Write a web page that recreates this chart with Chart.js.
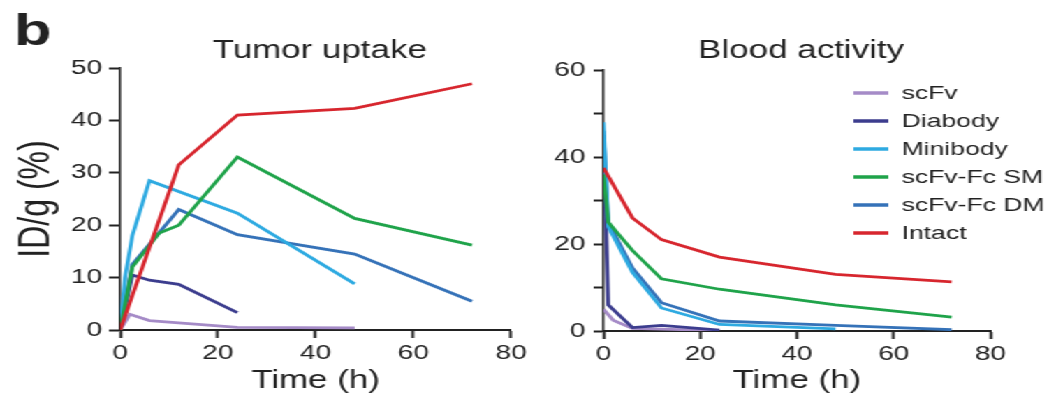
<!DOCTYPE html>
<html><head><meta charset="utf-8">
<script src="https://cdn.jsdelivr.net/npm/chart.js@4/dist/chart.umd.min.js"></script>
<style>
html,body{margin:0;padding:0;background:#fff;overflow:hidden;}
#wrap{position:absolute;left:0;top:0;width:756px;height:403px;transform:scaleX(1.396825);transform-origin:0 0;}
#c1{position:absolute;left:0;top:0;}
#c2{position:absolute;left:380px;top:0;}
</style></head><body>
<div id="wrap"><canvas id="c1" width="380" height="403"></canvas><canvas id="c2" width="376" height="403"></canvas></div>
<script>
// ---- data ----
const seriesNames = ['scFv', 'Diabody', 'Minibody', 'scFv-Fc SM', 'scFv-Fc DM', 'Intact'];
const seriesColors = ['#a58bc7', '#3c3d8e', '#2eaae1', '#1fa34a', '#3572b8', '#d7262e'];
const xTickLabels = [0, 20, 40, 60, 80];
const tumorYTickLabels = [0, 10, 20, 30, 40, 50];
const bloodYTickLabels = [0, 20, 40, 60];

// Tumor uptake (time h, ID/g %)
const tumorScFvT = [0, 2, 6, 24, 48];
const tumorScFvV = [0, 3, 1.8, 0.5, 0.4];
const tumorDiabodyT = [0, 2.5, 6, 12, 24];
const tumorDiabodyV = [0, 10.5, 9.5, 8.7, 3.3];
const tumorMinibodyT = [0, 1, 2.5, 6, 24, 48];
const tumorMinibodyV = [0, 10, 18, 28.5, 22.3, 8.8];
const tumorSMT = [0, 2.5, 8, 12, 24, 48, 72];
const tumorSMV = [0, 12, 18.5, 20, 33, 21.3, 16.2];
const tumorDMT = [0, 2.5, 12, 24, 48, 72];
const tumorDMV = [0, 12.5, 23, 18.2, 14.5, 5.5];
const tumorIntactT = [0, 12, 24, 48, 72];
const tumorIntactV = [0, 31.5, 41, 42.3, 47];

// Blood activity (time h, ID/g %)
const bloodScFvT = [0, 2, 6, 24];
const bloodScFvV = [5, 2.5, 0.6, 0.1];
const bloodDiabodyT = [0, 1, 6, 12, 24];
const bloodDiabodyV = [45, 6, 0.8, 1.3, 0.2];
const bloodMinibodyT = [0, 1, 6, 12, 24, 48];
const bloodMinibodyV = [48, 24, 13.5, 5.3, 1.5, 0.5];
const bloodSMT = [0, 1, 6, 12, 24, 48, 72];
const bloodSMV = [36, 25, 18.5, 12, 9.6, 6, 3.2];
const bloodDMT = [0, 1, 6, 12, 24, 48, 72];
const bloodDMV = [46, 25, 14.5, 6.5, 2.3, 1.3, 0.3];
const bloodIntactT = [0, 6, 12, 24, 48, 72];
const bloodIntactV = [37.5, 26, 21, 17, 13, 11.3];

const tumorSeries = [[tumorScFvT, tumorScFvV], [tumorDiabodyT, tumorDiabodyV], [tumorMinibodyT, tumorMinibodyV],
  [tumorSMT, tumorSMV], [tumorDMT, tumorDMV], [tumorIntactT, tumorIntactV]];
const bloodSeries = [[bloodScFvT, bloodScFvV], [bloodDiabodyT, bloodDiabodyV], [bloodMinibodyT, bloodMinibodyV],
  [bloodSMT, bloodSMV], [bloodDMT, bloodDMV], [bloodIntactT, bloodIntactV]];

// ---- chart ----
Chart.defaults.font.family = "'Liberation Sans', Arial, Helvetica, sans-serif";
Chart.defaults.color = '#222';
const INK = '#222';
const drawOrder = [5, 4, 2, 1, 3, 0];

function buildDatasets(series) {
  return series.map((s, i) => ({
    label: seriesNames[i],
    data: s[0].map((t, j) => ({ x: t, y: s[1][j] })),
    borderColor: seriesColors[i],
    backgroundColor: seriesColors[i],
    borderWidth: 2.8,
    pointRadius: 0,
    tension: 0,
    fill: false,
    order: drawOrder[i]
  }));
}

const decor = {
  id: 'decor',
  afterDraw(chart, args, o) {
    const ctx = chart.ctx, ca = chart.chartArea;
    ctx.save();
    ctx.fillStyle = INK;
    ctx.textBaseline = 'alphabetic';
    ctx.textAlign = 'center';
    ctx.font = "25px 'Liberation Sans', Arial, sans-serif";
    ctx.fillText(o.title, (ca.left + ca.right) / 2 + 3, 58);
    if (o.letter) {
      ctx.textAlign = 'left';
      ctx.font = "bold 44px 'Liberation Sans', Arial, sans-serif";
      ctx.fillText(o.letter, 10, 45);
    }
    if (o.legend) {
      ctx.textAlign = 'left';
      ctx.textBaseline = 'middle';
      ctx.font = "19px 'Liberation Sans', Arial, sans-serif";
      chart.data.datasets.forEach((ds, i) => {
        const y = 93 + i * 28;
        ctx.strokeStyle = ds.borderColor;
        ctx.lineWidth = 3.5;
        ctx.beginPath();
        ctx.moveTo(231, y);
        ctx.lineTo(256, y);
        ctx.stroke();
        ctx.fillStyle = INK;
        ctx.fillText(ds.label, 265.5, y + 1);
      });
    }
    ctx.restore();
  }
};

function makeChart(id, series, cfg) {
  return new Chart(document.getElementById(id), {
    type: 'line',
    data: { datasets: buildDatasets(series) },
    plugins: [decor],
    options: {
      responsive: false,
      animation: false,
      devicePixelRatio: 1,
      layout: { padding: { left: 0, right: cfg.padRight, top: cfg.top, bottom: 0 } },
      plugins: {
        legend: { display: false },
        tooltip: { enabled: false },
        decor: { title: cfg.title, letter: cfg.letter, legend: cfg.legend }
      },
      scales: {
        x: {
          type: 'linear', min: 0, max: 80,
          ticks: { stepSize: 20, font: { size: 20 }, color: INK, padding: 3,
            callback: v => xTickLabels.includes(v) ? String(v) : '' },
          grid: { display: true, drawOnChartArea: false, drawTicks: true, tickLength: 8, tickWidth: 2, tickColor: INK },
          border: { display: true, color: INK, width: 2 },
          title: { display: true, text: 'Time (h)', font: { size: 25 }, color: INK, padding: { top: 0, bottom: 7 } },
          afterFit: s => { s.height = cfg.xHeight; }
        },
        y: {
          type: 'linear', min: 0, max: cfg.yMax,
          ticks: { stepSize: 10, font: { size: 20 }, color: INK, padding: cfg.yTickPad,
            callback: v => cfg.yLabels.includes(v) ? String(v) : '' },
          grid: { display: true, drawOnChartArea: false, drawTicks: true, tickLength: cfg.yTickLen, tickWidth: 2, tickColor: INK },
          border: { display: true, color: INK, width: 1.6 },
          title: { display: !!cfg.yTitle, text: cfg.yTitle || '', font: { size: 32 }, color: INK, padding: { top: 7, bottom: 0 } },
          afterFit: s => { s.width = cfg.yWidth; }
        }
      }
    }
  });
}

makeChart('c1', tumorSeries, {
  title: 'Tumor uptake', letter: 'b', legend: false,
  padRight: 12, top: 68, xHeight: 73, yMax: 50, yLabels: tumorYTickLabels,
  yTickPad: 5, yTickLen: 8, yTitle: 'ID/g (%)', yWidth: 86
});
makeChart('c2', bloodSeries, {
  title: 'Blood activity', letter: null, legend: true,
  padRight: 47, top: 70, xHeight: 72, yMax: 60, yLabels: bloodYTickLabels,
  yTickPad: 6, yTickLen: 7, yTitle: null, yWidth: 52
});
</script>
</body></html>
